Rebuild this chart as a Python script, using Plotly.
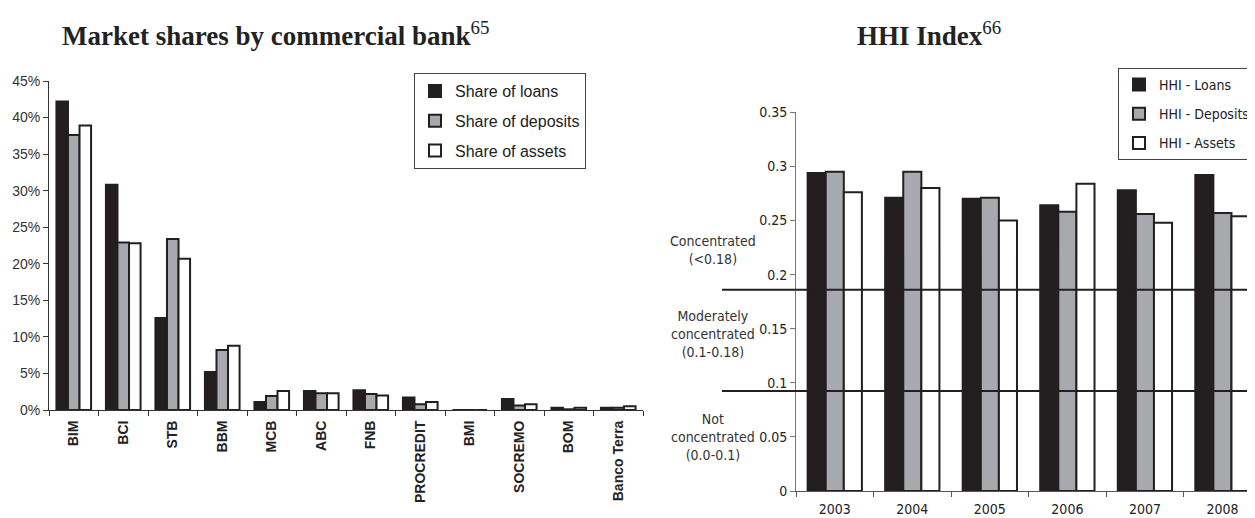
import plotly.graph_objects as go

# ---------------- data ----------------
banks = ["BIM", "BCI", "STB", "BBM", "MCB", "ABC", "FNB", "PROCREDIT",
         "BMI", "SOCREMO", "BOM", "Banco Terra"]
share_loans = [42.2, 30.8, 12.6, 5.2, 1.1, 2.6, 2.7, 1.7, 0.0, 1.5, 0.3, 0.3]
share_deposits = [37.6, 22.9, 23.4, 8.2, 1.9, 2.3, 2.2, 0.8, 0.0, 0.6, 0.1, 0.3]
share_assets = [38.9, 22.8, 20.7, 8.8, 2.6, 2.3, 2.0, 1.1, 0.0, 0.8, 0.3, 0.5]

years = ["2003", "2004", "2005", "2006", "2007", "2008"]
hhi_loans = [0.294, 0.271, 0.270, 0.264, 0.278, 0.292]
hhi_deposits = [0.295, 0.295, 0.271, 0.258, 0.256, 0.257]
hhi_assets = [0.276, 0.280, 0.250, 0.284, 0.248, 0.254]

threshold_high = 0.186
threshold_low = 0.0925

left_yticks = [0, 5, 10, 15, 20, 25, 30, 35, 40, 45]
left_ytick_text = ["0%", "5%", "10%", "15%", "20%", "25%", "30%", "35%", "40%", "45%"]
right_yticks = [0, 0.05, 0.1, 0.15, 0.2, 0.25, 0.3, 0.35]
right_ytick_text = ["0", "0.05", "0.1", "0.15", "0.2", "0.25", "0.3", "0.35"]

left_title = "<b>Market shares by commercial bank</b><sup>65</sup>"
right_title = "<b>HHI Index</b><sup>66</sup>"
zone_labels = ["Concentrated<br>(<0.18)",
               "Moderately<br>concentrated<br>(0.1-0.18)",
               "Not<br>concentrated<br>(0.0-0.1)"]
zone_label_y = [0.223, 0.145, 0.050]

# ---------------- styles ----------------
# the page body has an 8px default margin, so the figure is drawn 8px in
OFF = 8
W, H = 1255 - OFF, 518 - OFF
DARK = "#231f20"
GREY = "#a8a9ad"
SANS = "Liberation Sans, Arial, sans-serif"
NARROW = "Liberation Sans Narrow, Arial Narrow, DejaVu Sans Condensed, Liberation Sans, sans-serif"
SERIF = "Liberation Serif, Times New Roman, serif"


def px(x):
    return (x - OFF) / W


def py(y):
    return 1 - (y - OFF) / H


fig = go.Figure()

left_series = [("Share of loans", share_loans, DARK),
               ("Share of deposits", share_deposits, GREY),
               ("Share of assets", share_assets, "white")]
for i, (name, vals, col) in enumerate(left_series):
    fig.add_trace(go.Bar(
        x=banks, y=vals, name=name, xaxis="x", yaxis="y",
        marker=dict(color=col, line=dict(color=DARK, width=2)),
        legend="legend", legendgroup="l%d" % i,
    ))

right_series = [("HHI - Loans", hhi_loans, DARK),
                ("HHI - Deposits", hhi_deposits, GREY),
                ("HHI - Assets", hhi_assets, "white")]
for i, (name, vals, col) in enumerate(right_series):
    fig.add_trace(go.Bar(
        x=years, y=vals, name=name, xaxis="x2", yaxis="y2",
        marker=dict(color=col, line=dict(color=DARK, width=2)),
        legend="legend2", legendgroup="r%d" % i,
    ))

shapes = []
for t in (threshold_high, threshold_low):
    shapes.append(dict(type="line", xref="paper", yref="y2",
                       x0=px(722), x1=1.0, y0=t, y1=t,
                       line=dict(color=DARK, width=2), layer="above"))

annotations = [
    dict(text=left_title, xref="paper", yref="paper", x=px(275), y=py(34),
         xanchor="center", yanchor="middle",
         showarrow=False, font=dict(family=SERIF, size=27, color="#222")),
    dict(text=right_title, xref="paper", yref="paper", x=px(929), y=py(34),
         xanchor="center", yanchor="middle",
         showarrow=False, font=dict(family=SERIF, size=27, color="#222")),
]
for txt, yv in zip(zone_labels, zone_label_y):
    annotations.append(dict(text=txt, xref="paper", yref="y2", x=px(713), y=yv,
                            xanchor="center", yanchor="middle",
                            showarrow=False, align="center",
                            font=dict(family=NARROW, size=14, color="#333")))

fig.update_layout(
    width=W, height=H,
    margin=dict(l=0, r=0, t=0, b=0, autoexpand=False),
    paper_bgcolor="white", plot_bgcolor="white",
    barmode="group", bargap=0.3, bargroupgap=0,
    shapes=shapes, annotations=annotations,
    xaxis=dict(domain=[px(49), px(643)], anchor="y", type="category",
               range=[-0.5, len(banks) - 0.5], automargin=False,
               showline=True, linecolor="#333", linewidth=1,
               ticks="outside", tickson="boundaries", ticklen=5, tickcolor="#333",
               tickangle=-90, showgrid=False, ticklabelstandoff=4,
               tickfont=dict(family=SANS, size=14, color="#222", weight="bold")),
    yaxis=dict(domain=[py(410), py(81)], anchor="x", range=[0, 45],
               tickvals=left_yticks, ticktext=left_ytick_text, automargin=False,
               showline=True, linecolor="#333", linewidth=1,
               ticks="outside", ticklen=5, tickcolor="#333",
               showgrid=False, zeroline=False,
               tickfont=dict(family=SANS, size=14, color="#333")),
    xaxis2=dict(domain=[px(796), 1.0], anchor="y2", type="category",
                range=[-0.5, 5.42], automargin=False,
                showline=True, linecolor="#555", linewidth=1,
                ticks="outside", tickson="boundaries", ticklen=5, tickcolor="#555",
                showgrid=False, ticklabelstandoff=5,
                tickfont=dict(family=NARROW, size=14, color="#222")),
    yaxis2=dict(domain=[py(491), py(112.3)], anchor="x2", range=[0, 0.35],
                tickvals=right_yticks, ticktext=right_ytick_text, automargin=False,
                showline=True, linecolor="#777", linewidth=1,
                ticks="outside", ticklen=5, tickcolor="#777",
                showgrid=False, zeroline=False,
                tickfont=dict(family=NARROW, size=14, color="#222")),
    legend=dict(x=px(414), y=py(73), xanchor="left", yanchor="top",
                bgcolor="white", bordercolor="#444", borderwidth=1,
                font=dict(family=SANS, size=16, color="#222"),
                tracegroupgap=6, itemwidth=30),
    legend2=dict(x=px(1118), y=py(68), xanchor="left", yanchor="top",
                 bgcolor="white", bordercolor="#444", borderwidth=1,
                 font=dict(family=NARROW, size=14, color="#222"),
                 tracegroupgap=8, itemwidth=30),
)

fig.write_html("out.html")
